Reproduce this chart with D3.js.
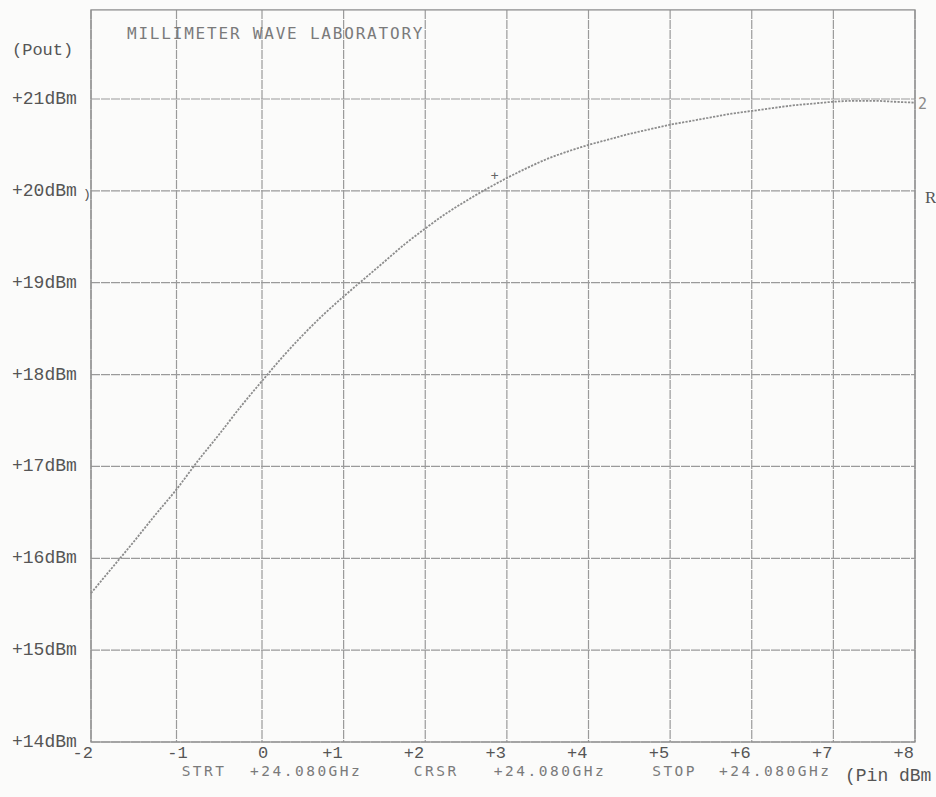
<!DOCTYPE html>
<html>
<head>
<meta charset="utf-8">
<script src="https://cdn.jsdelivr.net/npm/d3@7"></script>
<style>
  html, body { margin: 0; padding: 0; background: #fbfbfa; }
  svg { display: block; }
</style>
</head>
<body>
<svg id="chart" width="936" height="797"></svg>
<script>
// ---------- data ----------
const pinTicks = [-2, -1, 0, 1, 2, 3, 4, 5, 6, 7, 8];
const pinTickLabels = ["-2", "-1", "0", "+1", "+2", "+3", "+4", "+5", "+6", "+7", "+8"];
const poutTicks = [14, 15, 16, 17, 18, 19, 20, 21];
const poutTickLabels = ["+14dBm", "+15dBm", "+16dBm", "+17dBm", "+18dBm", "+19dBm", "+20dBm", "+21dBm"];
const pin = [-2, -1.75, -1.5, -1.25, -1, -0.75, -0.5, -0.25, 0, 0.25, 0.5, 0.75, 1, 1.25, 1.5, 1.75,
             2, 2.25, 2.5, 2.75, 3, 3.25, 3.5, 3.75, 4, 4.25, 4.5, 4.75, 5, 5.25, 5.5, 5.75,
             6, 6.25, 6.5, 6.75, 7, 7.25, 7.5, 7.75, 8];
const pout = [15.62, 15.90, 16.18, 16.47, 16.75, 17.06, 17.35, 17.65, 17.93, 18.19, 18.43, 18.65, 18.85, 19.04, 19.23, 19.42,
              19.59, 19.75, 19.89, 20.02, 20.14, 20.25, 20.35, 20.43, 20.50, 20.56, 20.62, 20.67, 20.72, 20.76, 20.80, 20.84,
              20.87, 20.90, 20.93, 20.95, 20.97, 20.98, 20.98, 20.97, 20.96];
const cursorPin = 2.85;
const title = "MILLIMETER WAVE LABORATORY";
const infoLabels = ["STRT", "+24.080GHz", "CRSR", "+24.080GHz", "STOP", "+24.080GHz"];
const yAxisTitle = "(Pout)";
const xAxisTitle = "(Pin dBm";

// ---------- layout ----------
const svg = d3.select("#chart");
const x = d3.scaleLinear().domain([-2, 0, 8]).range([91, 262, 915]);
const y = d3.scaleLinear().domain([14, 21]).range([742, 99]);
const topY = y(21.97);

const gridColor = "#9a9a9a";
const textColor = "#555";
const plotterText = "#7a7a7a";
const mono = "'Liberation Mono', 'DejaVu Sans Mono', monospace";
const plotFont = "'DejaVu Sans Mono', monospace";

const g = svg.append("g");

// gridlines (horizontal)
g.selectAll("line.h").data(poutTicks).enter().append("line")
  .attr("x1", x(-2)).attr("x2", x(8))
  .attr("y1", d => y(d)).attr("y2", d => y(d))
  .attr("stroke", gridColor).attr("stroke-width", 1.2)
  .attr("stroke-dasharray", "9,1");

// gridlines (vertical)
g.selectAll("line.v").data(pinTicks).enter().append("line")
  .attr("x1", d => x(d)).attr("x2", d => x(d))
  .attr("y1", topY).attr("y2", y(14))
  .attr("stroke", gridColor).attr("stroke-width", 1.2)
  .attr("stroke-dasharray", "9,1");

// frame
g.append("rect")
  .attr("x", x(-2)).attr("y", topY)
  .attr("width", x(8) - x(-2)).attr("height", y(14) - topY)
  .attr("fill", "none").attr("stroke", "#8f8f8f").attr("stroke-width", 1.3);

// y tick labels
g.selectAll("text.yl").data(poutTicks).enter().append("text")
  .attr("x", 12).attr("y", d => y(d) + 5)
  .attr("font-family", mono).attr("font-size", 18)
  .attr("fill", textColor)
  .text((d, i) => poutTickLabels[i]);

// small mark after +20dBm
g.append("text").attr("x", 83).attr("y", y(20) + 7)
  .attr("font-family", mono).attr("font-size", 13).attr("fill", textColor).text(")");

// x tick labels
g.selectAll("text.xl").data(pinTicks).enter().append("text")
  .attr("x", d => d <= 0 ? x(d) : x(d) - 1)
  .attr("y", 758)
  .attr("text-anchor", d => d <= 0 ? (d === -2 ? "end" : "middle") : "end")
  .attr("dx", d => d === -2 ? 2 : (d <= 0 ? 1 : 0))
  .attr("font-family", mono).attr("font-size", 17)
  .attr("fill", textColor)
  .text((d, i) => pinTickLabels[i]);

// axis titles
g.append("text").attr("x", 12).attr("y", 55)
  .attr("font-family", mono).attr("font-size", 17).attr("fill", textColor).text(yAxisTitle);
g.append("text").attr("x", 845).attr("y", 781)
  .attr("font-family", mono).attr("font-size", 18).attr("fill", textColor).text(xAxisTitle);

// title
g.append("text").attr("x", 127).attr("y", 39)
  .attr("font-family", plotFont).attr("font-size", 16).attr("letter-spacing", 1.8)
  .attr("fill", plotterText).text(title);

// bottom info row
const infoPins = [-0.94, -0.14, 1.86, 2.84, 4.78, 5.6];
g.selectAll("text.info").data(infoLabels).enter().append("text")
  .attr("x", (d, i) => x(infoPins[i])).attr("y", 776)
  .attr("font-family", plotFont).attr("font-size", 14.5).attr("letter-spacing", 2.5)
  .attr("fill", plotterText).text(d => d);

// trace
const pts = pin.map((p, i) => [p, pout[i]]);
const line = d3.line().x(d => x(d[0])).y(d => y(d[1])).curve(d3.curveMonotoneX);
g.append("path").datum(pts)
  .attr("d", line)
  .attr("fill", "none").attr("stroke", "#8c8c8c").attr("stroke-width", 1.8)
  .attr("stroke-dasharray", "2.2,1.3");

// cursor marker
const cursorVal = d3.scaleLinear().domain(pin).range(pout)(cursorPin);
g.append("text").attr("x", x(cursorPin)).attr("y", y(cursorVal) - 5)
  .attr("text-anchor", "middle")
  .attr("font-family", plotFont).attr("font-size", 13).attr("fill", "#666").text("+");

// right-side markers
g.append("text").attr("x", x(8) + 3).attr("y", y(21) + 10)
  .attr("font-family", plotFont).attr("font-size", 15).attr("fill", "#8a8a8a").text("2");
g.append("text").attr("x", x(8) + 10).attr("y", y(20) + 12)
  .attr("font-family", "'Liberation Serif', serif").attr("font-size", 17).attr("fill", textColor).text("R");
</script>
</body>
</html>
